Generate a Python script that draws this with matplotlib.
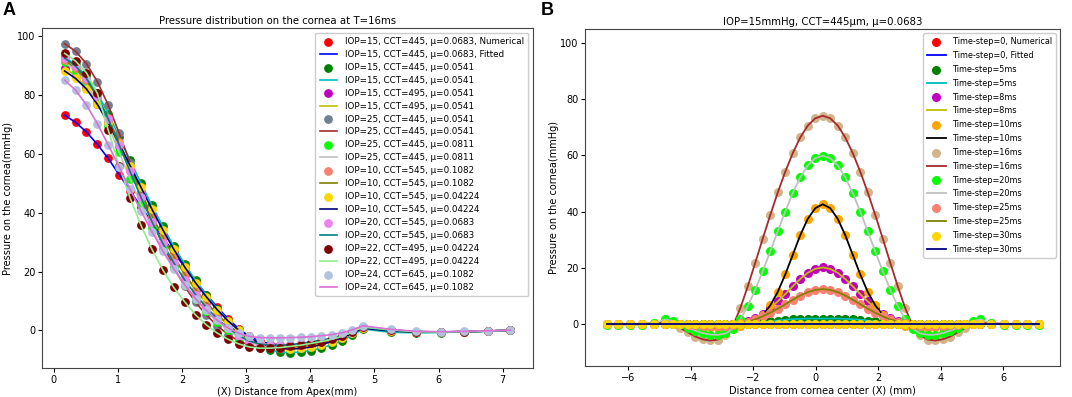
import matplotlib
matplotlib.use('Agg')
import matplotlib.pyplot as plt

# ---- Panel A: pressure at T=16ms for different IOP / CCT / mu ----
x_a = [0.17, 0.34, 0.51, 0.68, 0.85, 1.02, 1.19, 1.36, 1.53, 1.70, 1.87, 2.04,
       2.21, 2.38, 2.55, 2.72, 2.89, 3.05, 3.21, 3.37, 3.53, 3.69, 3.85, 4.01,
       4.17, 4.33, 4.49, 4.65, 4.82, 5.25, 5.64, 6.03, 6.40, 6.77, 7.12]

labels_a = ["IOP=15, CCT=445, μ=0.0683",
            "IOP=15, CCT=445, μ=0.0541",
            "IOP=15, CCT=495, μ=0.0541",
            "IOP=25, CCT=445, μ=0.0541",
            "IOP=25, CCT=445, μ=0.0811",
            "IOP=10, CCT=545, μ=0.1082",
            "IOP=10, CCT=545, μ=0.04224",
            "IOP=20, CCT=545, μ=0.0683",
            "IOP=22, CCT=495, μ=0.04224",
            "IOP=24, CCT=645, μ=0.1082"]

y_iop15_445_0683 = [73.1, 70.7, 67.4, 63.2, 58.4, 52.9, 47.5, 42.0, 36.7, 31.6, 26.5, 21.6,
                    16.8, 12.2, 7.9, 3.9, 0.5, -2.0, -3.6, -4.5, -4.9, -5.0, -4.8, -4.4,
                    -3.8, -3.0, -2.0, -0.8, 0.8, 0.0, -0.4, -0.5, -0.4, -0.2, 0.1]
y_iop15_445_0541 = [93.0, 90.2, 86.4, 80.6, 73.6, 65.8, 57.8, 50.0, 42.5, 35.4, 28.6, 22.6,
                    17.0, 12.0, 7.4, 3.3, 0.0, -2.8, -5.0, -6.6, -7.4, -7.5, -7.3, -6.8,
                    -6.0, -4.9, -3.5, -1.7, 0.5, -0.6, -0.8, -0.7, -0.5, -0.3, 0.0]
y_iop15_495_0541 = [89.2, 86.5, 82.5, 77.0, 70.3, 62.5, 54.5, 46.5, 38.8, 31.6, 25.0, 19.0,
                    13.8, 9.2, 5.2, 1.8, -1.0, -3.2, -4.8, -5.7, -6.0, -6.0, -5.7, -5.2,
                    -4.5, -3.6, -2.5, -1.0, 0.9, -0.2, -0.5, -0.5, -0.4, -0.2, 0.1]
y_iop25_445_0541 = [97.4, 94.8, 90.6, 84.5, 76.5, 67.0, 57.0, 47.0, 37.6, 29.0, 21.5, 15.0,
                    9.6, 5.2, 1.6, -1.4, -3.6, -5.0, -5.8, -6.0, -5.9, -5.6, -5.2, -4.7,
                    -4.0, -3.2, -2.2, -0.8, 1.2, 0.3, -0.4, -0.5, -0.4, -0.2, 0.1]
y_iop25_445_0811 = [91.0, 88.2, 84.0, 77.5, 69.5, 60.5, 51.5, 42.8, 34.8, 27.6, 21.2, 15.6,
                    10.8, 6.6, 3.0, 0.0, -2.4, -4.0, -5.0, -5.4, -5.4, -5.1, -4.7, -4.1,
                    -3.5, -2.8, -1.8, -0.5, 1.3, 0.2, -0.4, -0.5, -0.4, -0.2, 0.1]
y_iop10_545_1082 = [91.8, 89.0, 85.0, 79.2, 72.0, 64.0, 55.5, 47.0, 39.0, 31.8, 25.2, 19.2,
                    14.0, 9.5, 5.5, 2.0, -1.0, -3.0, -4.3, -5.0, -5.2, -5.1, -4.8, -4.3,
                    -3.7, -2.9, -1.9, -0.6, 1.0, 0.0, -0.4, -0.5, -0.4, -0.2, 0.1]
y_iop10_545_04224 = [88.1, 85.6, 82.0, 76.8, 70.5, 63.4, 56.0, 48.6, 41.2, 34.2, 27.6, 21.6,
                     16.2, 11.4, 7.0, 3.2, 0.0, -2.5, -4.3, -5.5, -6.1, -6.3, -6.1, -5.6,
                     -4.8, -3.8, -2.6, -1.0, 0.8, -0.2, -0.5, -0.5, -0.4, -0.2, 0.1]
y_iop20_545_0683 = [92.5, 89.8, 85.6, 79.5, 71.8, 63.0, 54.0, 45.2, 37.0, 29.6, 23.0, 17.2,
                    12.2, 7.8, 4.0, 0.8, -1.8, -3.6, -4.6, -5.0, -5.0, -4.8, -4.4, -3.9,
                    -3.3, -2.6, -1.7, -0.5, 1.1, 0.1, -0.4, -0.5, -0.4, -0.2, 0.1]
y_iop22_495_04224 = [94.1, 91.5, 87.5, 80.5, 68.0, 56.0, 45.0, 35.7, 27.6, 20.6, 14.6, 9.8,
                     5.3, 1.9, -0.9, -3.0, -4.6, -5.6, -6.0, -6.0, -5.8, -5.4, -5.0, -4.4,
                     -3.8, -3.0, -2.0, -0.6, 1.2, 0.2, -0.4, -0.5, -0.4, -0.2, 0.1]
y_iop24_645_1082 = [85.0, 81.6, 76.6, 70.2, 63.0, 55.6, 48.0, 40.6, 33.6, 27.0, 21.0, 15.6,
                    10.8, 6.8, 3.4, 0.8, -1.0, -2.0, -2.4, -2.5, -2.5, -2.4, -2.3, -2.1,
                    -1.8, -1.4, -0.8, 0.2, 1.6, 0.4, -0.3, -0.4, -0.3, -0.1, 0.1]

# ---- Panel B: pressure vs. time-step, IOP=15, CCT=445, mu=0.0683 ----
x_b = [-6.69, -6.32, -5.95, -5.57, -5.18,
       -4.82, -4.58, -4.34, -4.10, -3.86, -3.62, -3.38, -3.14, -2.90, -2.66, -2.42,
       -2.18, -1.94, -1.70, -1.46, -1.22, -0.98, -0.74, -0.50, -0.26, -0.02,
       0.22,
       0.46, 0.70, 0.94, 1.18, 1.42, 1.66, 1.90, 2.14, 2.38, 2.62,
       2.86, 3.10, 3.34, 3.58, 3.82, 4.06, 4.30, 4.54, 4.78, 5.02, 5.26,
       5.62, 6.01, 6.39, 6.76, 7.13]

labels_b = ["Time-step=0", "Time-step=5ms", "Time-step=8ms", "Time-step=10ms",
            "Time-step=16ms", "Time-step=20ms", "Time-step=25ms", "Time-step=30ms"]

y_t0 = [0, 0, 0, 0, 0,
        0, 0, 0, 0, 0, 0, 0, 0, 0, 0, 0,
        0, 0, 0, 0, 0, 0, 0, 0, 0, 0,
        0,
        0, 0, 0, 0, 0, 0, 0, 0, 0, 0,
        0, 0, 0, 0, 0, 0, 0, 0, 0, 0, 0,
        0, 0, 0, 0, 0]
y_t5 = [0, 0, 0, 0, 0,
        0, 0, 0, 0, 0, 0, 0, 0, 0, 0, 0,
        0.1, 0.3, 0.6, 0.9, 1.2, 1.5, 1.7, 1.8, 1.9, 1.9,
        1.9,
        1.9, 1.9, 1.8, 1.7, 1.5, 1.2, 0.9, 0.6, 0.3, 0.1,
        0, 0, 0, 0, 0, 0, 0, 0, 0, 0, 0,
        0, 0, 0, 0, 0]
y_t8 = [0, 0, 0, 0, 0,
        0.1, 0.0, -0.1, -0.2, -0.3, -0.4, -0.5, -0.5, -0.4, -0.2, 0.2,
        0.9, 2.0, 3.6, 5.6, 8.0, 10.6, 13.4, 16.0, 18.2, 19.6,
        20.1,
        19.6, 18.2, 16.0, 13.4, 10.6, 8.0, 5.6, 3.6, 2.0, 0.9,
        0.2, -0.2, -0.4, -0.5, -0.5, -0.4, -0.3, -0.2, -0.1, 0.0, 0.1,
        0, 0, 0, 0, 0]
y_t10 = [0, 0, 0, 0, 0.1,
         0.2, 0.1, -0.1, -0.4, -0.7, -1.0, -1.2, -1.3, -1.3, -1.1, -0.8,
         -0.2, 1.0, 3.2, 6.6, 11.4, 17.6, 24.6, 31.6, 37.4, 41.2,
         42.6,
         41.2, 37.4, 31.6, 24.6, 17.6, 11.4, 6.6, 3.2, 1.0, -0.2,
         -0.8, -1.1, -1.3, -1.3, -1.2, -1.0, -0.7, -0.4, -0.1, 0.1, 0.2,
         0.1, 0, 0, 0, 0]
y_t16 = [0, 0, 0, 0, 0.2,
         0.6, 0.0, -1.4, -3.0, -4.5, -5.5, -5.9, -5.6, -4.0, -0.8, 5.6,
         13.4, 21.8, 30.4, 38.8, 46.8, 54.2, 60.8, 66.4, 70.6, 73.2,
         74.1,
         73.2, 70.6, 66.4, 60.8, 54.2, 46.8, 38.8, 30.4, 21.8, 13.4,
         5.6, -0.8, -4.0, -5.6, -5.9, -5.5, -4.5, -3.0, -1.4, 0.0, 0.6,
         0.2, 0, 0, 0, 0]
y_t20 = [-0.5, -0.5, -0.5, -0.4, 0.2,
         1.6, 1.0, -0.2, -1.3, -2.4, -3.3, -3.8, -3.9, -3.4, -1.8, 1.6,
         6.4, 12.2, 18.8, 25.8, 33.0, 40.0, 46.6, 52.2, 56.4, 59.0,
         59.9,
         59.0, 56.4, 52.2, 46.6, 40.0, 33.0, 25.8, 18.8, 12.2, 6.4,
         1.6, -1.8, -3.4, -3.9, -3.8, -3.3, -2.4, -1.3, -0.2, 1.0, 1.6,
         0.2, -0.4, -0.5, -0.5, -0.5]
y_t25 = [0, 0, 0, 0, 0,
         0.1, 0.0, -0.1, -0.3, -0.5, -0.6, -0.7, -0.7, -0.6, -0.3, 0.2,
         0.8, 1.6, 2.7, 4.0, 5.4, 7.0, 8.6, 10.1, 11.3, 12.1,
         12.4,
         12.1, 11.3, 10.1, 8.6, 7.0, 5.4, 4.0, 2.7, 1.6, 0.8,
         0.2, -0.3, -0.6, -0.7, -0.7, -0.6, -0.5, -0.3, -0.1, 0.0, 0.1,
         0, 0, 0, 0, 0]
y_t30 = [0, 0, 0, 0, 0,
         0, 0, 0, 0, 0, 0, 0, 0, 0, 0, 0,
         0, 0, 0, 0, 0, 0, 0, 0, 0, 0,
         0,
         0, 0, 0, 0, 0, 0, 0, 0, 0, 0,
         0, 0, 0, 0, 0, 0, 0, 0, 0, 0, 0,
         0, 0, 0, 0, 0]

series_a = [y_iop15_445_0683, y_iop15_445_0541, y_iop15_495_0541, y_iop25_445_0541,
            y_iop25_445_0811, y_iop10_545_1082, y_iop10_545_04224, y_iop20_545_0683,
            y_iop22_495_04224, y_iop24_645_1082]
series_b = [y_t0, y_t5, y_t8, y_t10, y_t16, y_t20, y_t25, y_t30]

# (dot colour, line colour) pairs
colors_a = [('red', 'blue'), ('green', 'c'), ('m', 'y'), ('slategray', 'brown'),
            ('lime', 'silver'), ('salmon', 'olive'), ('gold', 'navy'),
            ('violet', 'teal'), ('maroon', 'lightgreen'), ('lightsteelblue', 'orchid')]
colors_b = [('red', 'blue'), ('green', 'c'), ('m', 'y'), ('orange', 'black'),
            ('tan', 'brown'), ('lime', 'silver'), ('salmon', 'olive'), ('gold', 'navy')]

fig = plt.figure(figsize=(10.72, 3.97), dpi=100)
ax1 = fig.add_axes([0.0395, 0.073, 0.4575, 0.856])
ax2 = fig.add_axes([0.546, 0.078, 0.443, 0.849])

for i, (y, (dc, lc), lab) in enumerate(zip(series_a, colors_a, labels_a)):
    if i == 0:
        l1, l2 = lab + ", Numerical", lab + ", Fitted"
    else:
        l1 = l2 = lab
    ax1.scatter(x_a, y, s=28, color=dc, label=l1, zorder=2)
    ax1.plot(x_a, y, color=lc, lw=1.2, label=l2, zorder=2)

for i, (y, (dc, lc), lab) in enumerate(zip(series_b, colors_b, labels_b)):
    if i == 0:
        l1, l2 = lab + ", Numerical", lab + ", Fitted"
    else:
        l1 = l2 = lab
    ax2.scatter(x_b, y, s=30, color=dc, label=l1, zorder=2)
    ax2.plot(x_b, y, color=lc, lw=1.3, label=l2, zorder=2)

ax1.set_title("Pressure distribution on the cornea at T=16ms", fontsize=7.3, x=0.48, pad=3)
ax1.set_xlabel("(X) Distance from Apex(mm)", fontsize=7, labelpad=1.5)
ax1.set_ylabel("Pressure on the cornea(mmHg)", fontsize=7, labelpad=3)
ax1.set_xticks(range(0, 8))

ax2.set_title("IOP=15mmHg, CCT=445μm, μ=0.0683", fontsize=7.3, pad=3)
ax2.set_xlabel("Distance from cornea center (X) (mm)", fontsize=7, labelpad=1.5)
ax2.set_ylabel("Pressure on the cornea(mmHg)", fontsize=7, labelpad=0.5)
ax2.set_ylim(-15, 105)

for ax in (ax1, ax2):
    ax.tick_params(labelsize=7, length=3, width=0.8, pad=2)
    for spine in ax.spines.values():
        spine.set_color('#444444')

ax1.legend(loc='upper right', fontsize=6.3, labelspacing=0.45, borderpad=0.5,
           handlelength=2.0, handletextpad=0.9, framealpha=1.0, edgecolor='#cccccc')
ax2.legend(loc='upper right', fontsize=5.9, labelspacing=0.59, borderpad=0.5,
           handlelength=2.2, handletextpad=0.9, framealpha=1.0, edgecolor='#cccccc')

fig.text(0.002, 0.995, "A", fontsize=13, fontweight='bold', va='top', family='Liberation Sans')
fig.text(0.504, 0.995, "B", fontsize=13, fontweight='bold', va='top', family='Liberation Sans')

fig.savefig('out.png', dpi=100)
